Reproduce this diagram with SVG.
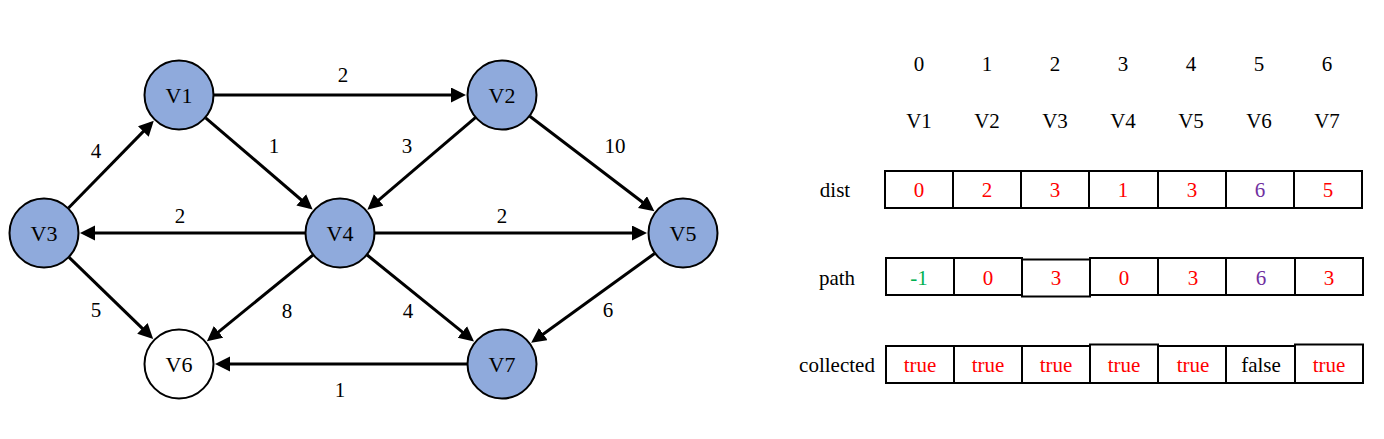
<svg xmlns="http://www.w3.org/2000/svg" width="1384" height="439" viewBox="0 0 1384 439" font-family="Liberation Serif, DejaVu Serif, serif">
<style>
text{font-size:21px;text-anchor:middle;fill:#000}
.nl{font-size:22px}
.node circle{stroke:#000;stroke-width:2;fill:#8FAADC}
.node.w circle{fill:#fff}
.edge line{stroke:#000;stroke-width:3;marker-end:url(#ah)}
.cell{fill:#fff;stroke:#000;stroke-width:2}
.r{fill:#FF0000}.p{fill:#7030A0}.g{fill:#00B050}
</style>
<defs>
<marker id="ah" markerUnits="userSpaceOnUse" markerWidth="16" markerHeight="16" refX="11" refY="7.5" orient="auto">
<path d="M0,0 L15,7.5 L0,15 z" fill="#000"/>
</marker>
</defs>
<rect width="1384" height="439" fill="#fff"/>
<g id="connectors">
<g class="edge"><line x1="214" y1="95" x2="462" y2="95"/><text x="343" y="82">2</text></g>
<g class="edge"><line x1="205.6" y1="117.8" x2="309.6" y2="207"/><text x="274" y="153">1</text></g>
<g class="edge"><line x1="475.4" y1="117.7" x2="370.4" y2="207.1"/><text x="407" y="153">3</text></g>
<g class="edge"><line x1="529.8" y1="116.2" x2="651.2" y2="208.8"/><text x="615" y="153">10</text></g>
<g class="edge"><line x1="68.5" y1="208" x2="151" y2="123.6"/><text x="96" y="158">4</text></g>
<g class="edge"><line x1="305" y1="233" x2="84" y2="233"/><text x="180" y="223">2</text></g>
<g class="edge"><line x1="375" y1="233" x2="643" y2="233"/><text x="502" y="223">2</text></g>
<g class="edge"><line x1="69.1" y1="257.4" x2="150.3" y2="336.1"/><text x="96" y="317">5</text></g>
<g class="edge"><line x1="312.9" y1="255.1" x2="210" y2="338.8"/><text x="287" y="318">8</text></g>
<g class="edge"><line x1="367.2" y1="255" x2="470.9" y2="338.9"/><text x="408" y="318">4</text></g>
<g class="edge"><line x1="654.6" y1="253.5" x2="534.4" y2="340.5"/><text x="608" y="317">6</text></g>
<g class="edge"><line x1="467" y1="364" x2="219" y2="364"/><text x="340" y="397">1</text></g>
</g>
<g id="V1" class="node"><circle cx="179" cy="95" r="34.5"/><text class="nl" x="179" y="103">V1</text></g>
<g id="V2" class="node"><circle cx="502" cy="95" r="34.5"/><text class="nl" x="502" y="103">V2</text></g>
<g id="V3" class="node"><circle cx="44" cy="233" r="34.5"/><text class="nl" x="44" y="241">V3</text></g>
<g id="V4" class="node"><circle cx="340" cy="233" r="34.5"/><text class="nl" x="340" y="241">V4</text></g>
<g id="V5" class="node"><circle cx="683" cy="233" r="34.5"/><text class="nl" x="683" y="241">V5</text></g>
<g id="V6" class="node w"><circle cx="179" cy="364" r="34.5"/><text class="nl" x="179" y="372">V6</text></g>
<g id="V7" class="node"><circle cx="502" cy="364" r="34.5"/><text class="nl" x="502" y="372">V7</text></g>
<g id="table">
<g id="header">
<text x="919" y="71">0</text><text x="987" y="71">1</text><text x="1055" y="71">2</text><text x="1123" y="71">3</text><text x="1191" y="71">4</text><text x="1259" y="71">5</text><text x="1327" y="71">6</text>
<text x="919" y="128">V1</text><text x="987" y="128">V2</text><text x="1055" y="128">V3</text><text x="1123" y="128">V4</text><text x="1191" y="128">V5</text><text x="1259" y="128">V6</text><text x="1327" y="128">V7</text>
</g>
<g id="dist">
<text x="835" y="197">dist</text>
<rect class="cell" x="885" y="171" width="68" height="37"/>
<rect class="cell" x="953" y="171" width="68" height="37"/>
<rect class="cell" x="1021" y="171" width="68" height="37"/>
<rect class="cell" x="1089" y="171" width="69" height="37"/>
<rect class="cell" x="1158" y="171" width="68" height="37"/>
<rect class="cell" x="1226" y="171" width="68" height="37"/>
<rect class="cell" x="1294" y="171" width="68" height="37"/>
<text class="r" x="919" y="197">0</text><text class="r" x="987" y="197">2</text><text class="r" x="1055" y="197">3</text><text class="r" x="1123" y="197">1</text><text class="r" x="1192" y="197">3</text><text class="p" x="1260" y="197">6</text><text class="r" x="1328" y="197">5</text>
</g>
<g id="path">
<text x="837" y="285">path</text>
<rect class="cell" x="886" y="258" width="68" height="37"/>
<rect class="cell" x="954" y="258" width="68" height="37"/>
<rect class="cell" x="1022" y="259.5" width="68" height="37"/>
<rect class="cell" x="1090" y="258" width="68" height="37"/>
<rect class="cell" x="1158" y="258" width="68" height="37"/>
<rect class="cell" x="1226" y="258" width="69" height="37"/>
<rect class="cell" x="1295" y="258" width="68" height="37"/>
<text class="g" x="919" y="285">-1</text><text class="r" x="988" y="285">0</text><text class="r" x="1056" y="285">3</text><text class="r" x="1124" y="285">0</text><text class="r" x="1193" y="285">3</text><text class="p" x="1261" y="285">6</text><text class="r" x="1329" y="285">3</text>
</g>
<g id="collected">
<text x="837" y="372">collected</text>
<rect class="cell" x="886" y="346" width="68" height="37"/>
<rect class="cell" x="954" y="346" width="68" height="37"/>
<rect class="cell" x="1022" y="346" width="68" height="37"/>
<rect class="cell" x="1090" y="344.5" width="68" height="38.5"/>
<rect class="cell" x="1158" y="346" width="68" height="37"/>
<rect class="cell" x="1226" y="346" width="69" height="37"/>
<rect class="cell" x="1295" y="344.5" width="68" height="38.5"/>
<text class="r" x="920" y="372">true</text><text class="r" x="988" y="372">true</text><text class="r" x="1056" y="372">true</text><text class="r" x="1124" y="372">true</text><text class="r" x="1193" y="372">true</text><text x="1261" y="372">false</text><text class="r" x="1329" y="372">true</text>
</g>
</g>
</svg>
